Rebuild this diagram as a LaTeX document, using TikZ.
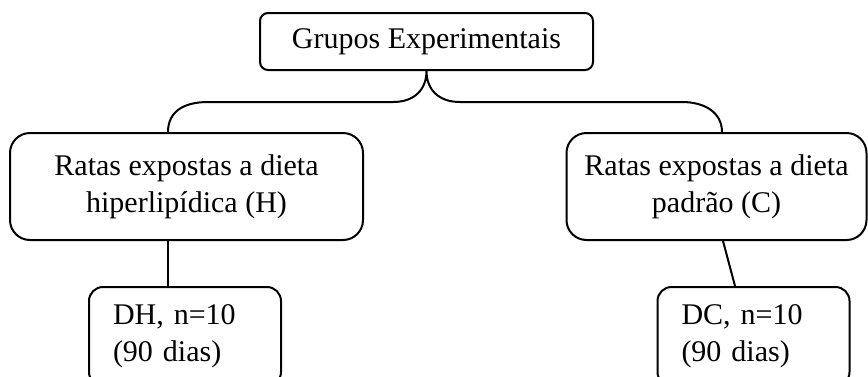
\documentclass[tikz,border=0pt]{standalone}
\usepackage{fontspec}
\setmainfont{Liberation Serif}
\tikzstyle{caixat}=[draw,line width=1pt,rounded corners=4pt,minimum width=166.5pt,minimum height=28.5pt,inner sep=0pt,font=\fontsize{15}{18.5}\selectfont]
\tikzstyle{caixam}=[draw,line width=1pt,rounded corners=10pt,minimum height=53.5pt,inner sep=0pt,align=center,font=\fontsize{15}{18.5}\selectfont]
\tikzstyle{caixab}=[draw,line width=1pt,rounded corners=7pt,minimum width=96pt,minimum height=49.5pt,inner sep=0pt,align=left,text width=72pt,font=\fontsize{15}{18.5}\selectfont]
\tikzstyle{ligacao}=[line width=1pt]

\begin{document}
\begin{tikzpicture}[x=0.5pt,y=-0.5pt]
    \useasboundingbox (0,0) rectangle (868,376);
    \node[caixat] (grupos) at (426.5,41.5) {Grupos Experimentais};
    \node[caixam,minimum width=176.5pt] (ratasH) at (186.5,186.5) {Ratas expostas a dieta\\hiperlipídica (H)};
    \node[caixam,minimum width=150pt] (ratasC) at (716.5,186.5) {Ratas expostas a dieta\\padrão (C)};
    \node[caixab] (dh) at (185,336.5) {DH, n=10\\(90 dias)};
    \node[caixab] (dc) at (753.5,336.5) {DC, n=10\\(90 dias)};

    % chave
    \draw[ligacao] ([xshift=-9.25pt]ratasH.north) .. controls +(0,-22) and +(-22,0) .. (208,102)
        -- (393,102) .. controls +(22,0) and +(0,18) .. (grupos.south)
        .. controls +(0,18) and +(-22,0) .. (460,102) -- (682,102)
        .. controls +(22,0) and +(0,-20) .. ([xshift=2.75pt]ratasC.north);
    \draw[ligacao] ([xshift=-9.25pt]ratasH.south) -- ([xshift=-8.5pt]dh.north);
    \draw[ligacao] ([xshift=3.25pt]ratasC.south) -- ([xshift=-9.25pt]dc.north);
\end{tikzpicture}
\end{document}
